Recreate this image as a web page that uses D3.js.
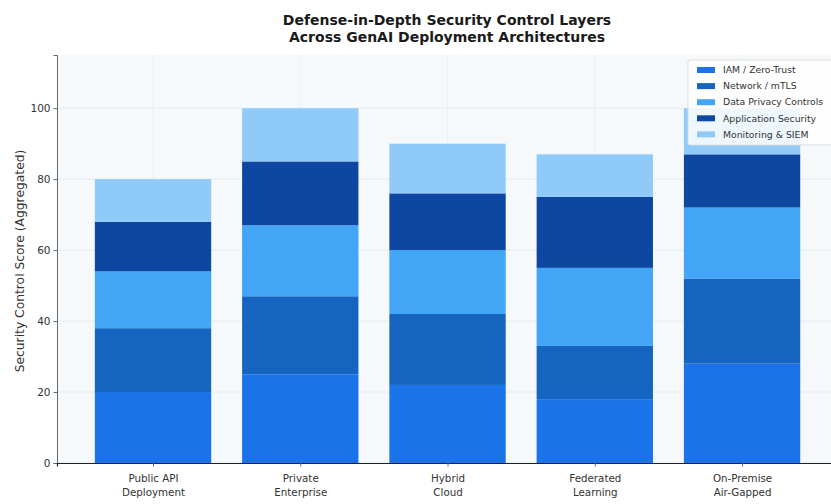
<!DOCTYPE html>
<html>
<head>
<meta charset="utf-8">
<script src="https://cdn.jsdelivr.net/npm/d3@7"></script>
<style>
  html, body { margin: 0; padding: 0; background: #ffffff; }
  svg { display: block; }
  text { font-family: "DejaVu Sans", sans-serif; }
</style>
</head>
<body>
<svg id="chart" width="831" height="504"></svg>
<script>
// Deployment architectures (two-line labels)
const categories = [
  ["Public API", "Deployment"],
  ["Private", "Enterprise"],
  ["Hybrid", "Cloud"],
  ["Federated", "Learning"],
  ["On-Premise", "Air-Gapped"]
];

// Control layers, stacked bottom to top
const layers = ["IAM / Zero-Trust", "Network / mTLS", "Data Privacy Controls", "Application Security", "Monitoring & SIEM"];
const layerColors = ["#1a73e8", "#1565c0", "#42a5f5", "#0d47a1", "#90caf9"];

// Score per layer for each architecture
const iamZeroTrust      = [20, 25, 22, 18, 28];
const networkMtls       = [18, 22, 20, 15, 24];
const dataPrivacy       = [16, 20, 18, 22, 20];
const applicationSec    = [14, 18, 16, 20, 15];
const monitoringSiem    = [12, 15, 14, 12, 13];

const yTicks = [0, 20, 40, 60, 80, 100];

const seriesValues = [iamZeroTrust, networkMtls, dataPrivacy, applicationSec, monitoringSiem];
const rows = categories.map((c, i) => {
  const r = { idx: i };
  layers.forEach((l, j) => { r[l] = seriesValues[j][i]; });
  return r;
});

const svg = d3.select("#chart");
const W = 831, H = 504;
const plot = { left: 57, right: 836.3, top: 55, bottom: 463 };

const x = d3.scaleLinear().domain([-0.652, 4.64]).range([plot.left, plot.right]);
const totals = rows.map(r => d3.sum(layers, l => r[l]));
const y = d3.scaleLinear().domain([0, d3.max(totals) * 1.15]).range([plot.bottom, plot.top]);

const barWidth = 0.79;

// plot background
svg.append("rect")
  .attr("x", plot.left).attr("y", plot.top)
  .attr("width", W - plot.left).attr("height", plot.bottom - plot.top)
  .attr("fill", "#f6f9fc");

// grid
const grid = svg.append("g");
grid.selectAll("line.h").data(yTicks).join("line")
  .attr("x1", plot.left).attr("x2", W)
  .attr("y1", d => y(d)).attr("y2", d => y(d))
  .attr("stroke", "#e3e8ee").attr("stroke-width", 0.8);
grid.selectAll("line.v").data(d3.range(categories.length)).join("line")
  .attr("x1", d => x(d)).attr("x2", d => x(d))
  .attr("y1", plot.top).attr("y2", plot.bottom)
  .attr("stroke", "#e8ecf1").attr("stroke-width", 0.8);

// stacked bars
const stack = d3.stack().keys(layers)(rows);
svg.append("g").selectAll("g").data(stack).join("g")
  .attr("fill", (d, i) => layerColors[i])
  .selectAll("rect").data(d => d).join("rect")
  .attr("x", d => x(d.data.idx - barWidth / 2))
  .attr("width", d => x(d.data.idx + barWidth / 2) - x(d.data.idx - barWidth / 2))
  .attr("y", d => y(d[1]))
  .attr("height", d => y(d[0]) - y(d[1]));

// y axis
const yAxis = svg.append("g")
  .attr("transform", `translate(${plot.left},0)`)
  .call(d3.axisLeft(y).tickValues(yTicks).tickSize(3.5).tickPadding(3));
yAxis.select(".domain").attr("stroke", "#666").attr("stroke-width", 1);
yAxis.selectAll(".tick line").attr("stroke", "#666");
yAxis.selectAll(".tick text").attr("font-size", 10.5).attr("fill", "#333")
  .style("font-family", "DejaVu Sans, sans-serif");

// x axis
const xAxis = svg.append("g")
  .attr("transform", `translate(0,${plot.bottom})`)
  .call(d3.axisBottom(x).tickValues(d3.range(categories.length)).tickSize(3.5).tickFormat(""));
xAxis.select(".domain").attr("stroke", "#222").attr("stroke-width", 1.2);
xAxis.selectAll(".tick line").attr("stroke", "#666");
xAxis.selectAll(".tick").each(function (d) {
  const t = d3.select(this).append("text")
    .attr("fill", "#333").attr("font-size", 10.3).attr("text-anchor", "middle")
    .attr("y", 19);
  categories[d].forEach((line, k) => {
    t.append("tspan").attr("x", 0).attr("dy", k === 0 ? 0 : 14).text(line);
  });
});

// y axis label
svg.append("text")
  .attr("transform", `translate(24,${(plot.top + plot.bottom) / 2 + 2}) rotate(-90)`)
  .attr("text-anchor", "middle").attr("font-size", 12.3).attr("fill", "#333")
  .text("Security Control Score (Aggregated)");

// title
const title = svg.append("text")
  .attr("text-anchor", "middle").attr("font-weight", "bold").attr("font-size", 14)
  .attr("fill", "#1a1a1a");
title.append("tspan").attr("x", 447).attr("y", 25).text("Defense-in-Depth Security Control Layers");
title.append("tspan").attr("x", 447).attr("dy", 17).text("Across GenAI Deployment Architectures");

// legend
const lg = svg.append("g").attr("transform", "translate(688,60)");
lg.append("rect").attr("width", 146).attr("height", 85)
  .attr("fill", "#ffffff").attr("fill-opacity", 0.85)
  .attr("stroke", "#dddddd").attr("rx", 2);
const items = lg.selectAll("g.item").data(layers).join("g")
  .attr("transform", (d, i) => `translate(9,${10 + i * 16.1})`);
items.append("rect").attr("width", 18).attr("height", 6).attr("y", -3)
  .attr("fill", (d, i) => layerColors[i]);
items.append("text").attr("x", 26).attr("dy", "0.35em")
  .attr("font-size", 9.3).attr("fill", "#333").text(d => d);
</script>
</body>
</html>
